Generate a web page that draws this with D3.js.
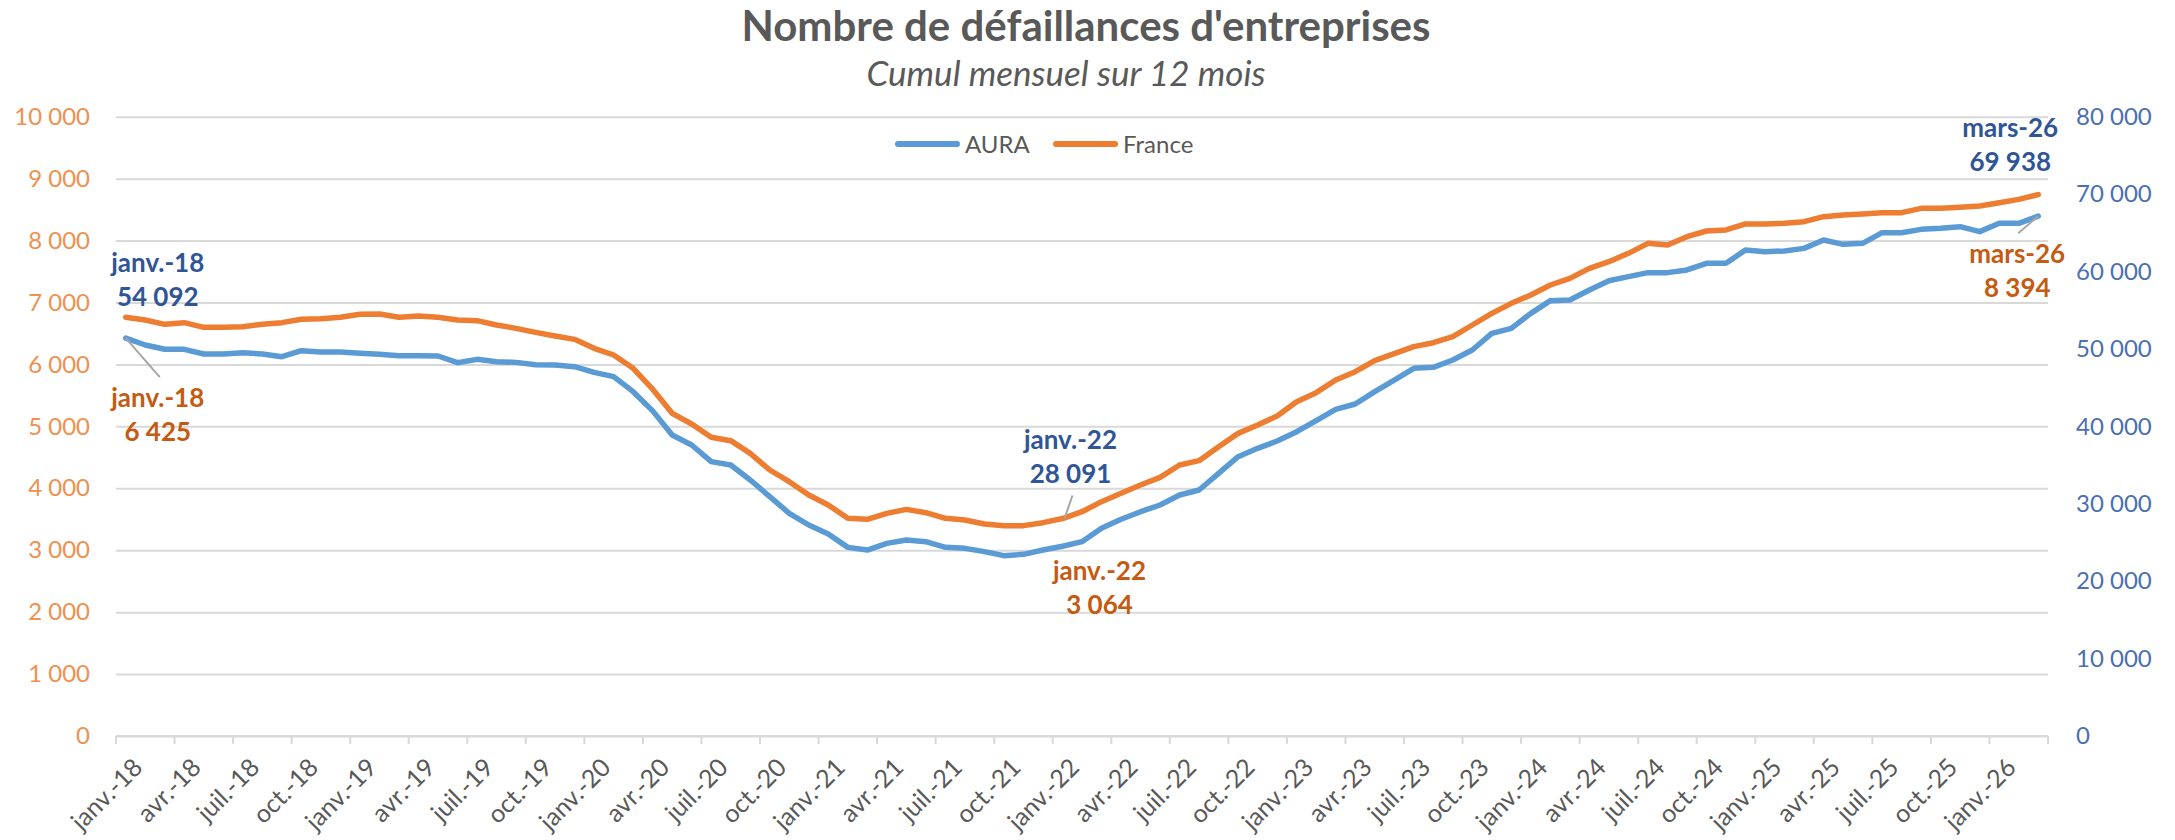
<!DOCTYPE html>
<html lang="fr">
<head>
<meta charset="utf-8">
<title>Nombre de défaillances d'entreprises</title>
<script src="https://cdn.jsdelivr.net/npm/d3@7"></script>
<style>
    body { margin: 0; background: #fff; }
    svg { display: block; font-family: Lato, "Open Sans", sans-serif; }
</style>
</head>
<body>
<svg id="chart"></svg>
<script>
// Categories: monthly, janv.-18 to mars-26
const monthNames = ['janv.', 'févr.', 'mars', 'avr.', 'mai', 'juin', 'juil.', 'août', 'sept.', 'oct.', 'nov.', 'déc.'];
const years = ['18', '19', '20', '21', '22', '23', '24', '25', '26'];
const months = [];
years.forEach(y => monthNames.forEach(m => months.push(m + '-' + y)));
months.splice(months.indexOf('mars-26') + 1);

const tickLabels = ['janv.-18', 'avr.-18', 'juil.-18', 'oct.-18', 'janv.-19', 'avr.-19', 'juil.-19', 'oct.-19',
    'janv.-20', 'avr.-20', 'juil.-20', 'oct.-20', 'janv.-21', 'avr.-21', 'juil.-21', 'oct.-21',
    'janv.-22', 'avr.-22', 'juil.-22', 'oct.-22', 'janv.-23', 'avr.-23', 'juil.-23', 'oct.-23',
    'janv.-24', 'avr.-24', 'juil.-24', 'oct.-24', 'janv.-25', 'avr.-25', 'juil.-25', 'oct.-25', 'janv.-26'];

// AURA (left axis)
const aura = [6425, 6314, 6244, 6244, 6168, 6168, 6190, 6168, 6125, 6222, 6201, 6201,
    6179, 6163, 6141, 6141, 6136, 6028, 6082, 6044, 6033, 5996, 5990, 5964,
    5872, 5802, 5560, 5250, 4860, 4699, 4430, 4376, 4134, 3865, 3595, 3407,
    3262, 3046, 3003, 3111, 3165, 3138, 3046, 3030, 2977, 2912, 2933, 3003,
    3064, 3138, 3353, 3499, 3622, 3730, 3891, 3972, 4241, 4510, 4645, 4763,
    4914, 5092, 5275, 5361, 5560, 5748, 5937, 5953, 6071, 6233, 6502, 6583,
    6825, 7030, 7041, 7202, 7352, 7417, 7482, 7482, 7525, 7632, 7632, 7848,
    7821, 7832, 7874, 8009, 7939, 7955, 8127, 8127, 8181, 8197, 8224, 8144,
    8278, 8278, 8394];

// France (right axis)
const france = [54092, 53738, 53179, 53394, 52791, 52791, 52877, 53179, 53394, 53825, 53911, 54083,
    54471, 54514, 54083, 54255, 54083, 53738, 53652, 53092, 52661, 52145, 51671, 51240,
    50077, 49216, 47494, 44800, 41680, 40300, 38584, 38150, 36512, 34361, 32856, 31131,
    29840, 28117, 27989, 28762, 29279, 28848, 28117, 27903, 27387, 27172, 27172, 27559,
    28091, 28977, 30270, 31346, 32425, 33415, 35006, 35566, 37373, 39095, 40173, 41336,
    43187, 44350, 45987, 47064, 48486, 49400, 50300, 50800, 51584, 53092, 54600, 55890,
    56967, 58260, 59121, 60413, 61274, 62351, 63643, 63427, 64504, 65236, 65365, 66140,
    66140, 66226, 66441, 67087, 67302, 67431, 67603, 67603, 68163, 68163, 68292, 68464,
    68895, 69325, 69938];

const leftTicks = [0, 1000, 2000, 3000, 4000, 5000, 6000, 7000, 8000, 9000, 10000];
const rightTicks = [0, 10000, 20000, 30000, 40000, 50000, 60000, 70000, 80000];

// Point labels: [month, series]
const callouts = [
    ['janv.-18', 'France'], ['janv.-18', 'AURA'],
    ['janv.-22', 'France'], ['janv.-22', 'AURA'],
    ['mars-26', 'France'], ['mars-26', 'AURA']
];

const width = 2175, height = 840;
const plot = { left: 116, right: 2048, top: 116.7, bottom: 736 };

const colors = { aura: '#5B9BD5', france: '#ED7D31', leftAxis: '#F0904E', rightAxis: '#4A6FB3',
    labelBlue: '#2F5597', labelOrange: '#C55A11', text: '#595959', grid: '#D9D9D9' };

const fr = d3.formatLocale({ decimal: ',', thousands: ' ', grouping: [3], currency: ['', ' €'] });
const fmt = fr.format(',d');

const svg = d3.select('#chart').attr('width', width).attr('height', height);

const x = d3.scaleBand().domain(months).range([plot.left, plot.right]).padding(0);
const yLeft = d3.scaleLinear().domain([0, 10000]).range([plot.bottom, plot.top]);
const yRight = d3.scaleLinear().domain([0, 80000]).range([plot.bottom, plot.top]);
const cx = m => x(m) + x.bandwidth() / 2;

// Title
svg.append('text')
    .attr('x', 1086).attr('y', 41)
    .attr('text-anchor', 'middle')
    .style('font-size', '42px').style('font-weight', 'bold').style('fill', colors.text)
    .text("Nombre de défaillances d'entreprises");

svg.append('text')
    .attr('x', 1066).attr('y', 86)
    .attr('text-anchor', 'middle')
    .style('font-size', '35px').style('font-style', 'italic').style('fill', colors.text)
    .text('Cumul mensuel sur 12 mois');

// Horizontal gridlines
svg.append('g')
    .attr('transform', `translate(${plot.left},0)`)
    .call(d3.axisLeft(yLeft).tickValues(leftTicks).tickSize(-(plot.right - plot.left)).tickFormat(''))
    .call(g => g.select('.domain').remove())
    .call(g => g.selectAll('line').attr('stroke', colors.grid).attr('stroke-width', 2));

// Left axis labels (AURA)
svg.append('g')
    .attr('transform', `translate(${plot.left - 26},0)`)
    .call(d3.axisLeft(yLeft).tickValues(leftTicks).tickSize(0).tickFormat(fmt))
    .call(g => g.select('.domain').remove())
    .call(g => g.selectAll('text')
        .attr('x', 0)
        .style('font-family', 'Lato, sans-serif').style('font-size', '24px')
        .style('fill', colors.leftAxis));

// Right axis labels (France)
svg.append('g')
    .attr('transform', `translate(${plot.right + 28},0)`)
    .call(d3.axisRight(yRight).tickValues(rightTicks).tickSize(0).tickFormat(fmt))
    .call(g => g.select('.domain').remove())
    .call(g => g.selectAll('text')
        .attr('x', 0)
        .style('font-family', 'Lato, sans-serif').style('font-size', '24px')
        .style('fill', colors.rightAxis));

// X axis: baseline, ticks every 3 months, rotated labels
const tickMonths = months.filter((m, i) => i % 3 === 0);
const xAxis = svg.append('g');
xAxis.append('line')
    .attr('x1', plot.left).attr('x2', plot.right)
    .attr('y1', plot.bottom).attr('y2', plot.bottom)
    .attr('stroke', colors.grid).attr('stroke-width', 2);

xAxis.selectAll('line.tick')
    .data(tickMonths.map(m => x(m)).concat([plot.right]))
    .enter()
    .append('line')
    .attr('class', 'tick')
    .attr('x1', d => d).attr('x2', d => d)
    .attr('y1', plot.bottom).attr('y2', plot.bottom + 8)
    .attr('stroke', colors.grid).attr('stroke-width', 2);

xAxis.selectAll('text')
    .data(tickLabels)
    .enter()
    .append('text')
    .attr('transform', d => `translate(${x(d) + 28},${plot.bottom + 33}) rotate(-45)`)
    .attr('text-anchor', 'end')
    .style('font-size', '25px')
    .style('fill', colors.text)
    .text(d => d);

// Series lines
const series = [
    { name: 'AURA', values: aura, y: yLeft, color: colors.aura },
    { name: 'France', values: france, y: yRight, color: colors.france }
];

series.forEach(s => {
    const line = d3.line()
        .x((d, i) => cx(months[i]))
        .y(d => s.y(d));
    svg.append('path')
        .datum(s.values)
        .attr('fill', 'none')
        .attr('stroke', s.color)
        .attr('stroke-width', 5.5)
        .attr('stroke-linejoin', 'round')
        .attr('stroke-linecap', 'round')
        .attr('d', line);
});

// Legend
const legend = svg.append('g');
const legendItems = [
    { name: 'AURA', color: colors.aura, x: 895 },
    { name: 'France', color: colors.france, x: 1053 }
];
legendItems.forEach(item => {
    legend.append('line')
        .attr('x1', item.x + 3).attr('x2', item.x + 62)
        .attr('y1', 144).attr('y2', 144)
        .attr('stroke', item.color).attr('stroke-width', 6).attr('stroke-linecap', 'round');
    legend.append('text')
        .attr('x', item.x + 70).attr('y', 152.5)
        .style('font-size', '24px').style('fill', colors.text)
        .text(item.name);
});

// Point callouts: label position relative to the data point
const calloutPos = {
    'janv.-18|France': { dx: 32, dy: -45, leader: null },
    'janv.-18|AURA': { dx: 32, dy: 69, leader: [0, 0, 34, 39] },
    'janv.-22|France': { dx: 8, dy: -70, leader: [10, -23, 2, 0] },
    'janv.-22|AURA': { dx: 37, dy: 34, leader: null },
    'mars-26|France': { dx: -28, dy: -58, leader: null },
    'mars-26|AURA': { dx: -21, dy: 47, leader: [0, 0, -20, 17] }
};

callouts.forEach(([m, name]) => {
    const s = series.find(d => d.name === name);
    const i = months.indexOf(m);
    const v = s.values[i];
    const px = cx(m), py = s.y(v);
    const pos = calloutPos[m + '|' + name];
    // France values are labelled in dark blue, AURA values in dark orange (as in the source)
    const col = name === 'France' ? colors.labelBlue : colors.labelOrange;
    if (pos.leader) {
        svg.append('line')
            .attr('x1', px + pos.leader[0]).attr('y1', py + pos.leader[1])
            .attr('x2', px + pos.leader[2]).attr('y2', py + pos.leader[3])
            .attr('stroke', '#A6A6A6').attr('stroke-width', 2);
    }
    const t = svg.append('text')
        .attr('text-anchor', 'middle')
        .style('font-size', '26px').style('font-weight', 'bold').style('fill', col);
    t.append('tspan').attr('x', px + pos.dx).attr('y', py + pos.dy).text(m);
    t.append('tspan').attr('x', px + pos.dx).attr('y', py + pos.dy + 34).text(fmt(v));
});
</script>
</body>
</html>
